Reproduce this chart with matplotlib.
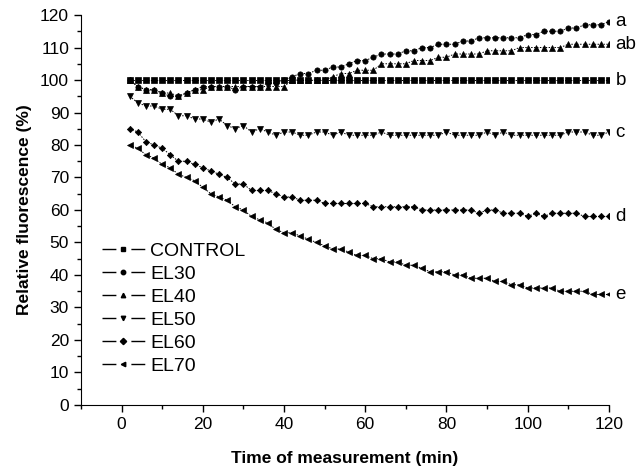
import numpy as np
import matplotlib
matplotlib.use("Agg")
import matplotlib.pyplot as plt
from matplotlib.lines import Line2D
from matplotlib.ticker import MultipleLocator

plt.rcParams["font.family"] = ["Liberation Sans", "DejaVu Sans"]

# time points (min), every 2 min
time = np.arange(2, 121, 2)

control = [100] * 60
el30 = [100, 98, 97, 97, 96, 95, 95, 96, 97, 98,
        98, 98, 98, 97, 98, 98, 98, 99, 99, 100,
        101, 102, 102, 103, 103, 104, 104, 105, 106, 106,
        107, 108, 108, 108, 109, 109, 110, 110, 111, 111,
        111, 112, 112, 113, 113, 113, 113, 113, 113, 114,
        114, 115, 115, 115, 116, 116, 117, 117, 117, 118]
el40 = [100, 98, 97, 97, 96, 96, 95, 96, 97, 97,
        98, 98, 98, 98, 98, 98, 98, 98, 98, 98,
        100, 100, 100, 100, 100, 101, 102, 102, 103, 103,
        103, 105, 105, 105, 105, 106, 106, 106, 107, 107,
        108, 108, 108, 108, 109, 109, 109, 109, 110, 110,
        110, 110, 110, 110, 111, 111, 111, 111, 111, 111]
el50 = [95, 93, 92, 92, 91, 91, 89, 89, 88, 88,
        87, 88, 86, 85, 86, 84, 85, 84, 83, 84,
        84, 83, 83, 84, 84, 83, 84, 83, 83, 83,
        83, 84, 83, 83, 83, 83, 83, 83, 83, 84,
        83, 83, 83, 83, 84, 83, 84, 83, 83, 83,
        83, 83, 83, 83, 84, 84, 84, 83, 83, 84]
el60 = [85, 84, 81, 80, 79, 77, 75, 75, 74, 73,
        72, 71, 70, 68, 68, 66, 66, 66, 65, 64,
        64, 63, 63, 63, 62, 62, 62, 62, 62, 62,
        61, 61, 61, 61, 61, 61, 60, 60, 60, 60,
        60, 60, 60, 59, 60, 60, 59, 59, 59, 58,
        59, 58, 59, 59, 59, 59, 58, 58, 58, 58]
el70 = [80, 79, 77, 76, 74, 73, 71, 70, 69, 67,
        65, 64, 63, 61, 60, 58, 57, 56, 54, 53,
        53, 52, 51, 50, 49, 48, 48, 47, 46, 46,
        45, 45, 44, 44, 43, 43, 42, 41, 41, 41,
        40, 40, 39, 39, 39, 38, 38, 37, 37, 36,
        36, 36, 36, 35, 35, 35, 35, 34, 34, 34]

names = ["CONTROL", "EL30", "EL40", "EL50", "EL60", "EL70"]
series = [control, el30, el40, el50, el60, el70]
markers = ["s", "o", "^", "v", "D", "<"]
letters = ["b", "a", "ab", "c", "d", "e"]

fig = plt.figure(figsize=(6.37, 4.69), dpi=100)
ax = fig.add_axes([0.127, 0.1365, 0.829, 0.8315])

handles = []
for name, vals, mk, let in zip(names, series, markers, letters):
    ms = 3.2 if mk == "D" else 3.8
    ax.plot(time, vals, color="black", lw=0.7, ls=(0, (1.5, 1.5)),
            marker=mk, ms=ms, mfc="black", mec="black", mew=0.5)
    ax.text(121.6, vals[-1], let, fontsize=13.5, va="center", ha="left",
            clip_on=False)
    # legend glyph: line - marker - line, with gaps around the marker
    seg = Line2D([], [], color="black", lw=1.0, ls=(0, (10, 10.8, 10)))
    dot = Line2D([], [], ls="none", marker=mk, ms=3.2, mfc="black",
                 mec="black")
    handles.append((seg, dot))

ax.legend(handles, names, loc="lower left", bbox_to_anchor=(0.025, 0.057),
          frameon=False, fontsize=14, handlelength=2.2, handletextpad=0.3,
          labelspacing=0.28, borderaxespad=0)

ax.set_xlim(-10, 120)
ax.set_ylim(0, 120)
ax.xaxis.set_major_locator(MultipleLocator(20))
ax.xaxis.set_minor_locator(MultipleLocator(10))
ax.yaxis.set_major_locator(MultipleLocator(10))
ax.yaxis.set_minor_locator(MultipleLocator(5))
ax.tick_params(which="both", direction="out", labelsize=12.5, width=1)
ax.tick_params(which="major", length=5)
ax.tick_params(which="minor", length=3)
for s in ["top", "right"]:
    ax.spines[s].set_visible(False)
ax.set_xlabel("Time of measurement (min)", fontsize=12.5, fontweight="bold",
              labelpad=14)
ax.set_ylabel("Relative fluorescence (%)", fontsize=12.5, fontweight="bold",
              labelpad=6)

fig.savefig("out.png", dpi=100)
